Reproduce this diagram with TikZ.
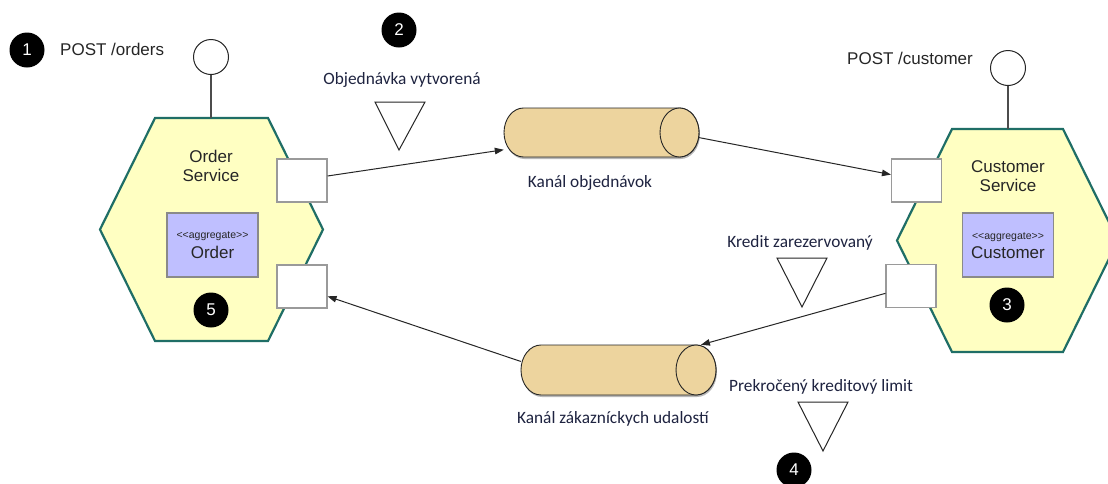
\documentclass[tikz,border=0pt]{standalone}
\usepackage{fontspec}
\setmainfont{Liberation Sans}
\newfontfamily\calib{Carlito}
\usetikzlibrary{shapes.geometric,arrows.meta,calc}
\definecolor{hexfill}{HTML}{FFFFC2}
\definecolor{hexline}{HTML}{1F6E66}
\definecolor{aggfill}{HTML}{BFBFFF}
\definecolor{aggline}{HTML}{8A8A8A}
\definecolor{cylfill}{HTML}{EDD49E}
\definecolor{portline}{HTML}{9A9A9A}
\definecolor{navy}{HTML}{1E2340}
\newcommand{\chan}[6]{% name, left, right, cy, rx, ry
  \fill[black, opacity=0.28] ({#2+#5+1},{#4-#6+2}) -- ({#3-#5+1},{#4-#6+2})
     arc[start angle=-90, end angle=90, x radius=#5, y radius=#6]
     -- ({#2+#5+1},{#4+#6+2})
     arc[start angle=90, end angle=270, x radius=#5, y radius=#6] -- cycle;
  \filldraw[cylbody] ({#2+#5},{#4-#6}) -- ({#3-#5},{#4-#6})
     arc[start angle=-90, end angle=90, x radius=#5, y radius=#6]
     -- ({#2+#5},{#4+#6})
     arc[start angle=90, end angle=270, x radius=#5, y radius=#6] -- cycle;
  \draw[cylbody] ({#3-#5},#4) ellipse[x radius=#5, y radius=#6];
  \node[rectangle, inner sep=0pt, minimum width={#3-#2}, minimum height={2*#6}] (#1) at ({(#2+#3)/2},#4) {};
}
\begin{document}
\begin{tikzpicture}[x=1pt,y=-1pt,
  hexa/.style={fill=hexfill, draw=hexline, line width=2.2pt, line join=miter},
  port/.style={rectangle, draw=portline, fill=white, line width=1.1pt, minimum width=50pt, minimum height=43pt, inner sep=0pt},
  agg/.style={rectangle, draw=aggline, fill=aggfill, line width=1.1pt, minimum width=91pt, minimum height=64pt, inner sep=0pt},
  badge/.style={circle, fill=black, text=white, minimum size=35pt, inner sep=0pt, font=\fontsize{17}{19}\selectfont},
  endpt/.style={circle, draw=black!85, fill=white, line width=1pt, minimum size=35pt, inner sep=0pt},
  lbl/.style={font=\fontsize{17}{19}\selectfont, text=black!85, inner sep=0pt, align=center},
  evt/.style={font=\calib\fontsize{17.3}{19}\selectfont, text=navy, inner sep=0pt},
  cylbody/.style={fill=cylfill, draw=black!85, line width=0.9pt},
  tri/.style={draw=black!85, fill=white, line width=1pt, line join=miter},
  conn/.style={draw=black!85, line width=1pt, -{Triangle[length=9pt,width=6.5pt]}},
  stem/.style={draw=black!70, line width=1.2pt}
]
\useasboundingbox (0,0) rectangle (1108,483);
\fill[white] (0,0) rectangle (1108,483);
\clip (0,0) rectangle (1108,483);

% hexagons
\draw[hexa] (155,118) -- (268,118) -- (323,229.5) -- (268,341) -- (155,341) -- (100,229.5) -- cycle;
\coordinate (hL) at (211,118);
\draw[hexa] (952,129) -- (1063,129) -- (1118,240.5) -- (1063,352) -- (952,352) -- (897,240.5) -- cycle;
\coordinate (hR) at (1008,129);

% endpoints
\node[endpt] (e1) at (211,57) {};
\draw[stem] (e1.south) -- (hL);
\node[endpt] (e2) at (1008,68) {};
\draw[stem] (e2.south) -- (hR);

\node[lbl, anchor=west] (post1) at (60,49) {POST /orders};
\node[lbl] (post2) at (910,58) {POST /customer};

% service titles
\node[lbl] (os) at (211,165.5) {Order\\Service};
\node[lbl] (cs) at (1008,176.5) {Customer\\Service};

% aggregates
\node[agg] (aggO) at (212.5,245) {};
\node[lbl, font=\fontsize{10.5}{12}\selectfont] (aggOs) at (212.5,236) {{<}{<}aggregate{>}{>}};
\node[lbl] (aggOn) at (212.5,252.5) {Order};
\node[agg] (aggC) at (1008,245) {};
\node[lbl, font=\fontsize{10.5}{12}\selectfont] (aggCs) at (1008,237) {{<}{<}aggregate{>}{>}};
\node[lbl] (aggCn) at (1008,252.5) {Customer};

% ports
\node[port] (p1) at (302,180.5) {};
\node[port] (p3) at (302,286.5) {};
\node[port] (p2) at (916.5,180.5) {};
\node[port] (p4) at (911,286) {};

% channels
\chan{c1}{504}{699}{132.5}{19.5}{24.5}
\node[evt] (c1l) at (590,183) {Kanál objednávok};
\chan{c2}{521}{716}{370}{20}{25}
\node[evt] (c2l) at (613,419) {Kanál zákazníckych udalostí};

% connectors
\draw[conn] (p1.10) -- (c1.190);
\draw[conn] (c1.-3) -- (p2.167);
\draw[conn] (p4.196) -- (c2.17);
\draw[conn] (c2.175) -- (p3.-21);

% events
\node[evt] (ev1) at (402,80) {Objednávka vytvorená};
\draw[tri] (375,102) -- (425,102) -- (399,150) -- cycle;
\node[evt] (ev2) at (800,243) {Kredit zarezervovaný};
\draw[tri] (777,258) -- (827,258) -- (802,307) -- cycle;
\node[evt] (ev3) at (821,387) {Prekročený kreditový limit};
\draw[tri] (798,402) -- (848,402) -- (823,451) -- cycle;

% badges
\node[badge] (b1) at (27,50) {1};
\node[badge] (b2) at (399,30) {2};
\node[badge] (b3) at (1007,305) {3};
\node[badge] (b4) at (794,470) {4};
\node[badge] (b5) at (211,310) {5};
\end{tikzpicture}
\end{document}
